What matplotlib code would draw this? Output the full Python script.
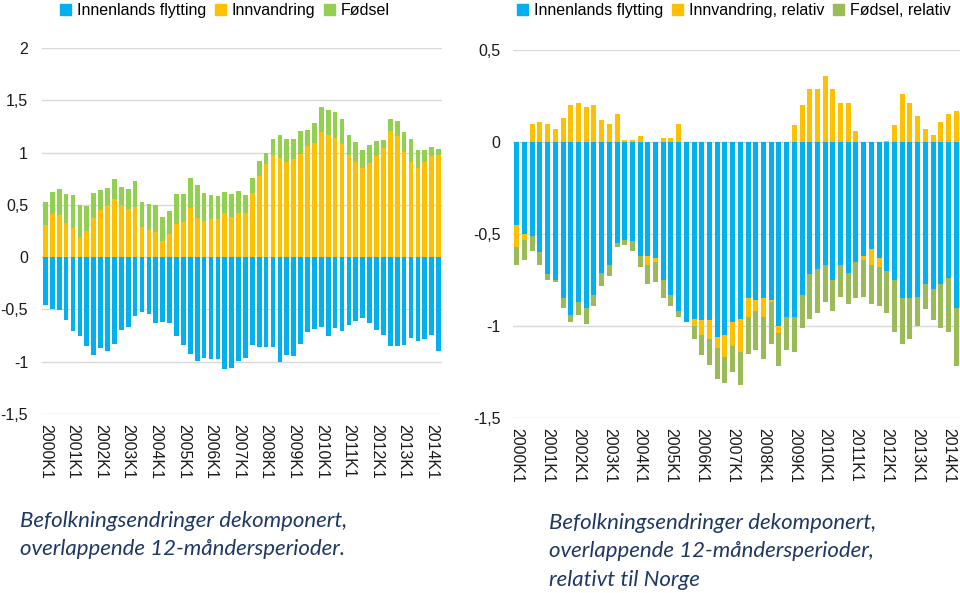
import numpy as np
import matplotlib.pyplot as plt
from matplotlib.ticker import FuncFormatter
from matplotlib.patches import Patch

# quarters 2000K1 .. 2014K2
quarters = [f"{y}K{q}" for y in range(2000, 2015) for q in range(1, 5)][:58]
year_labels = [f"{y}K1" for y in range(2000, 2015)]

# left panel: absolute contributions
innenlands = [-0.46, -0.50, -0.51, -0.60, -0.71, -0.75, -0.85, -0.94, -0.87, -0.90,
              -0.83, -0.70, -0.67, -0.56, -0.52, -0.54, -0.63, -0.62, -0.63, -0.75,
              -0.84, -0.93, -0.99, -0.96, -0.97, -0.97, -1.07, -1.06, -0.99, -0.96,
              -0.84, -0.86, -0.86, -0.86, -1.00, -0.94, -0.95, -0.83, -0.72, -0.69,
              -0.67, -0.75, -0.68, -0.71, -0.65, -0.61, -0.58, -0.63, -0.70, -0.74,
              -0.85, -0.85, -0.84, -0.77, -0.80, -0.78, -0.74, -0.90]
innvandring = [0.31, 0.41, 0.40, 0.33, 0.28, 0.18, 0.25, 0.37, 0.45, 0.50,
               0.56, 0.50, 0.46, 0.48, 0.29, 0.26, 0.24, 0.15, 0.22, 0.32,
               0.34, 0.47, 0.37, 0.35, 0.36, 0.36, 0.42, 0.38, 0.42, 0.42,
               0.61, 0.78, 0.89, 0.98, 0.95, 0.91, 0.94, 0.99, 1.06, 1.09,
               1.20, 1.17, 1.14, 1.08, 0.98, 0.91, 0.85, 0.90, 0.97, 1.04,
               1.21, 1.16, 1.01, 0.91, 0.85, 0.91, 0.97, 0.98]
fodsel = [0.22, 0.21, 0.25, 0.27, 0.31, 0.32, 0.24, 0.24, 0.19, 0.16,
          0.19, 0.17, 0.19, 0.25, 0.24, 0.25, 0.26, 0.23, 0.22, 0.28,
          0.26, 0.29, 0.32, 0.26, 0.23, 0.22, 0.20, 0.22, 0.21, 0.17,
          0.15, 0.14, 0.11, 0.15, 0.22, 0.22, 0.19, 0.22, 0.16, 0.19,
          0.24, 0.24, 0.25, 0.24, 0.19, 0.19, 0.17, 0.17, 0.14, 0.08,
          0.11, 0.14, 0.19, 0.22, 0.17, 0.11, 0.08, 0.05]

# right panel: relative to Norway
innenlands_rel = [-0.45, -0.50, -0.51, -0.60, -0.72, -0.75, -0.85, -0.94, -0.87, -0.90,
                  -0.83, -0.71, -0.67, -0.55, -0.53, -0.54, -0.62, -0.62, -0.63, -0.75,
                  -0.83, -0.92, -0.98, -0.96, -0.97, -0.97, -1.06, -1.05, -0.98, -0.96,
                  -0.85, -0.86, -0.85, -0.86, -1.00, -0.95, -0.95, -0.83, -0.72, -0.69,
                  -0.67, -0.75, -0.67, -0.71, -0.65, -0.62, -0.58, -0.63, -0.70, -0.75,
                  -0.85, -0.85, -0.84, -0.77, -0.80, -0.77, -0.74, -0.90]
innvandring_rel = [-0.12, -0.03, 0.10, 0.11, 0.10, 0.07, 0.13, 0.20, 0.21, 0.19,
                   0.20, 0.12, 0.10, 0.15, 0.01, 0.01, 0.03, -0.05, -0.02, 0.02,
                   0.02, 0.10, 0.00, -0.04, -0.08, -0.10, -0.06, -0.12, -0.13, -0.18,
                   -0.10, -0.06, -0.10, -0.01, -0.04, 0.00, 0.09, 0.20, 0.29, 0.29,
                   0.36, 0.29, 0.21, 0.21, 0.06, -0.02, -0.09, -0.05, 0.005, 0.09,
                   0.26, 0.21, 0.14, 0.07, 0.04, 0.11, 0.15, 0.17]
fodsel_rel = [-0.10, -0.11, -0.08, -0.07, -0.03, -0.01, -0.05, -0.04, -0.07, -0.09,
              -0.06, -0.07, -0.06, -0.02, -0.03, -0.05, -0.06, -0.10, -0.11, -0.10,
              -0.06, -0.03, 0.00, -0.07, -0.11, -0.14, -0.17, -0.14, -0.14, -0.18,
              -0.20, -0.21, -0.23, -0.23, -0.18, -0.18, -0.19, -0.18, -0.24, -0.24,
              -0.20, -0.17, -0.17, -0.17, -0.20, -0.20, -0.21, -0.21, -0.23, -0.28,
              -0.25, -0.22, -0.16, -0.14, -0.17, -0.24, -0.29, -0.32]

BLUE = '#00B0F0'
ORANGE = '#FFC000'
GREEN_L = '#92D050'
GREEN_R = '#9BBB59'
GRID = '#D9D9D9'
TXT = '#1a1a1a'
CAPTION = '#1F3864'

plt.rcParams['font.family'] = ['Liberation Sans', 'DejaVu Sans']


def stacked(ax, series, colors, width):
    """Excel-style stacking: positives pile up from 0, negatives pile down."""
    x = np.arange(len(series[0]))
    pos = np.zeros(len(x))
    neg = np.zeros(len(x))
    for vals, col in zip(series, colors):
        v = np.array(vals)
        bottom = np.where(v >= 0, pos, neg)
        ax.bar(x, v, bottom=bottom, width=width, color=col, linewidth=0, zorder=3)
        pos = pos + np.where(v >= 0, v, 0)
        neg = neg + np.where(v < 0, v, 0)


def style(ax, ymin, ymax, n, ypad):
    ax.set_xlim(-0.5, n - 0.5)
    ax.set_ylim(ymin, ymax)
    ax.set_yticks(np.arange(ymin, ymax + 0.01, 0.5))
    ax.yaxis.set_major_formatter(FuncFormatter(lambda v, p: f"{v:g}".replace('.', ',')))
    ax.grid(axis='y', color=GRID, linewidth=1, zorder=0)
    for s in ax.spines.values():
        s.set_visible(False)
    ax.set_xticks(np.arange(0, n, 4))
    ax.set_xticklabels(year_labels, rotation=270)
    ax.tick_params(axis='both', length=0, labelsize=11.5, labelcolor=TXT)
    ax.tick_params(axis='y', pad=ypad)
    ax.tick_params(axis='x', pad=7)


fig = plt.figure(figsize=(9.6, 5.93), dpi=100)
ax1 = fig.add_axes([42 / 960, 1 - 414 / 593, 400 / 960, 366 / 593])
ax2 = fig.add_axes([513 / 960, 1 - 418 / 593, 447 / 960, 368 / 593])

stacked(ax1, [innenlands, innvandring, fodsel], [BLUE, ORANGE, GREEN_L], 0.68)
style(ax1, -1.5, 2.0, len(quarters), 10)

stacked(ax2, [innenlands_rel, innvandring_rel, fodsel_rel], [BLUE, ORANGE, GREEN_R], 0.65)
style(ax2, -1.5, 0.5, len(quarters), 9)

leg_kw = dict(ncol=3, frameon=False, fontsize=11.5, handlelength=0.7, handleheight=0.7,
              handletextpad=0.35, columnspacing=0.55, borderaxespad=0, borderpad=0)
fig.legend(handles=[Patch(color=BLUE, label='Innenlands flytting'),
                    Patch(color=ORANGE, label='Innvandring'),
                    Patch(color=GREEN_L, label='Fødsel')],
           loc='upper left', bbox_to_anchor=(60 / 960, 1 - 3 / 593), **leg_kw)
fig.legend(handles=[Patch(color=BLUE, label='Innenlands flytting'),
                    Patch(color=ORANGE, label='Innvandring, relativ'),
                    Patch(color=GREEN_R, label='Fødsel, relativ')],
           loc='upper left', bbox_to_anchor=(517 / 960, 1 - 3 / 593), **leg_kw)

cap_kw = dict(fontsize=16, style='italic', color=CAPTION, va='top', ha='left',
              family=['Lato', 'Open Sans', 'DejaVu Sans'], linespacing=1.52)
fig.text(20 / 960, 1 - 511 / 593,
         "Befolkningsendringer dekomponert,\noverlappende 12-måndersperioder.", **cap_kw)
fig.text(549 / 960, 1 - 513 / 593,
         "Befolkningsendringer dekomponert,\noverlappende 12-måndersperioder,\nrelativt til Norge",
         **cap_kw)

fig.savefig('out.png', dpi=100)
